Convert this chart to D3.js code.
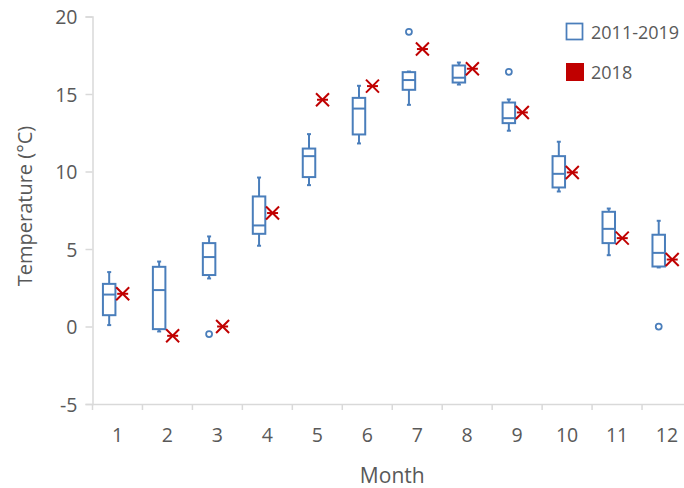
<!DOCTYPE html>
<html>
<head>
<meta charset="utf-8">
<script src="https://cdn.jsdelivr.net/npm/d3@7"></script>
<style>
  body { margin: 0; background: #fff; }
  svg text { font-family: "Open Sans", sans-serif; fill: #595959; }
</style>
</head>
<body>
<div id="chart"></div>
<script>
// Months
const months = ['1', '2', '3', '4', '5', '6', '7', '8', '9', '10', '11', '12'];

// 2011-2019 box stats per month
const whiskerLow  = [0.09, -0.32, 3.1, 5.21, 9.12, 11.81, 14.3, 15.61, 12.63, 8.71, 4.6, 3.81];
const q1          = [0.73, -0.17, 3.32, 5.98, 9.64, 12.39, 15.27, 15.74, 13.12, 8.97, 5.38, 3.87];
const median      = [2.06, 2.35, 4.48, 6.52, 10.99, 14.06, 15.9, 16.05, 13.44, 9.85, 6.3, 4.75];
const q3          = [2.75, 3.85, 5.38, 8.39, 11.48, 14.75, 16.41, 16.84, 14.45, 10.99, 7.4, 5.92];
const whiskerHigh = [3.51, 4.19, 5.81, 9.61, 12.41, 15.53, 16.45, 17.03, 14.65, 11.92, 7.61, 6.82];

// outliers [month, value]
const outliers = [['3', -0.49], ['7', 19.01], ['9', 16.43], ['12', 0.0]];

// 2018 monthly values
const year2018 = [2.11, -0.6, 0.0, 7.32, 14.63, 15.51, 17.9, 16.63, 13.81, 9.94, 5.7, 4.32];

const yTicks = [-5, 0, 5, 10, 15, 20];

const blue = '#4a7ebb';
const red = '#c00000';
const axisGray = '#d9d9d9';

const W = 684, H = 488;
const margin = { top: 16.5, left: 92.5, bottom: 84, right: -8 };

const svg = d3.select('#chart').append('svg')
  .attr('width', W)
  .attr('height', H);

const x = d3.scaleBand()
  .domain(months)
  .range([margin.left, W - margin.right]);

const y = d3.scaleLinear()
  .domain([-5, 20])
  .range([H - margin.bottom, margin.top]);

// y axis
const yAxis = svg.append('g')
  .attr('transform', 'translate(' + margin.left + ',0)')
  .call(d3.axisLeft(y).tickValues(yTicks).tickSize(7).tickPadding(8)
    .tickFormat(d => String(d)));
yAxis.select('.domain').attr('stroke', axisGray).attr('stroke-width', 1.5);
yAxis.selectAll('.tick line').attr('stroke', axisGray).attr('stroke-width', 1.5);
yAxis.selectAll('.tick text')
  .style('font-size', '19.5px')
  .attr('dy', '0.36em')
  .attr('fill', '#595959');

// x axis
const xAxisG = svg.append('g')
  .attr('transform', 'translate(0,' + y(-5) + ')')
  .call(d3.axisBottom(x).tickSize(0).tickPadding(24));
xAxisG.select('.domain').attr('stroke', axisGray).attr('stroke-width', 1.5);
xAxisG.selectAll('.tick text')
  .style('font-size', '19.5px')
  .attr('fill', '#595959');
// tick marks between categories
xAxisG.selectAll('.sep')
  .data(months)
  .enter().append('line')
    .attr('x1', d => x(d))
    .attr('x2', d => x(d))
    .attr('y1', 0)
    .attr('y2', 6)
    .attr('stroke', axisGray)
    .attr('stroke-width', 1.5);

// axis titles
svg.append('text')
  .attr('x', (margin.left + W - margin.right) / 2)
  .attr('y', 483)
  .attr('text-anchor', 'middle')
  .style('font-size', '21px')
  .text('Month');

svg.append('text')
  .attr('transform', 'translate(32,206) rotate(-90)')
  .attr('text-anchor', 'middle')
  .style('font-size', '20px')
  .text('Temperature  (°C)');

// boxes
const boxOff = -8.3, boxW = 12.5, capW = 4;
const boxData = months.map((m, i) => ({
  m: m, lo: whiskerLow[i], q1: q1[i], med: median[i], q3: q3[i], hi: whiskerHigh[i]
}));

const boxes = svg.selectAll('.box')
  .data(boxData)
  .enter().append('g')
    .attr('class', 'box')
    .attr('transform', d => 'translate(' + (x(d.m) + x.bandwidth() / 2 + boxOff) + ',0)')
    .attr('stroke', blue)
    .attr('stroke-width', 2)
    .attr('fill', 'none');

boxes.append('line')
  .attr('y1', d => y(d.hi)).attr('y2', d => y(d.q3));
boxes.append('line')
  .attr('y1', d => y(d.q1)).attr('y2', d => y(d.lo));
boxes.append('line')
  .attr('x1', -capW / 2).attr('x2', capW / 2)
  .attr('y1', d => y(d.hi)).attr('y2', d => y(d.hi));
boxes.append('line')
  .attr('x1', -capW / 2).attr('x2', capW / 2)
  .attr('y1', d => y(d.lo)).attr('y2', d => y(d.lo));
boxes.append('rect')
  .attr('x', -boxW / 2)
  .attr('width', boxW)
  .attr('y', d => y(d.q3))
  .attr('height', d => y(d.q1) - y(d.q3))
  .attr('fill', '#fff');
boxes.append('line')
  .attr('x1', -boxW / 2).attr('x2', boxW / 2)
  .attr('y1', d => y(d.med)).attr('y2', d => y(d.med));

// outliers
svg.selectAll('.outlier')
  .data(outliers)
  .enter().append('circle')
    .attr('class', 'outlier')
    .attr('cx', d => x(d[0]) + x.bandwidth() / 2 + boxOff)
    .attr('cy', d => y(d[1]))
    .attr('r', 3)
    .attr('fill', '#fff')
    .attr('stroke', blue)
    .attr('stroke-width', 1.75);

// 2018 markers (x with bar)
const markOff = 5.2, mk = 6.5;
const marks = svg.selectAll('.mark2018')
  .data(year2018)
  .enter().append('g')
    .attr('class', 'mark2018')
    .attr('transform', (d, i) => 'translate(' + (x(months[i]) + x.bandwidth() / 2 + markOff) + ',' + y(d) + ')')
    .attr('stroke', red)
    .attr('stroke-width', 2);
marks.append('line').attr('x1', -mk).attr('y1', -mk).attr('x2', mk).attr('y2', mk);
marks.append('line').attr('x1', -mk).attr('y1', mk).attr('x2', mk).attr('y2', -mk);
marks.append('line').attr('x1', -mk + 1).attr('y1', 0).attr('x2', mk - 1).attr('y2', 0);

// legend
const legend = svg.append('g');
legend.append('rect')
  .attr('x', 566.5).attr('y', 23.5)
  .attr('width', 16).attr('height', 16)
  .attr('fill', '#fff')
  .attr('stroke', blue)
  .attr('stroke-width', 1.75);
legend.append('text')
  .attr('x', 591).attr('y', 38.5)
  .style('font-size', '18px')
  .text('2011-2019');
legend.append('rect')
  .attr('x', 566).attr('y', 63)
  .attr('width', 18).attr('height', 18)
  .attr('fill', red);
legend.append('text')
  .attr('x', 591).attr('y', 78.5)
  .style('font-size', '18px')
  .text('2018');
</script>
</body>
</html>
